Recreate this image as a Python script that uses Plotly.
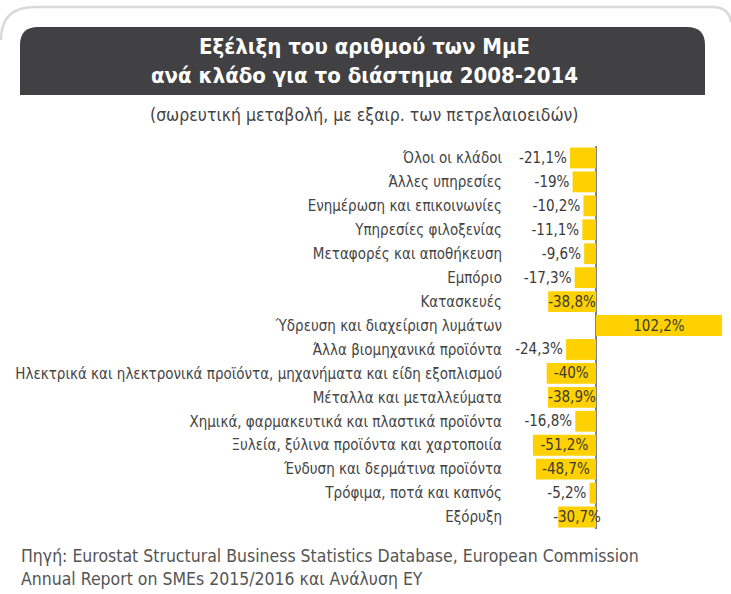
import plotly.graph_objects as go

categories = [
    "Όλοι οι κλάδοι",
    "Άλλες υπηρεσίες",
    "Ενημέρωση και επικοινωνίες",
    "Υπηρεσίες φιλοξενίας",
    "Μεταφορές και αποθήκευση",
    "Εμπόριο",
    "Κατασκευές",
    "Ύδρευση και διαχείριση λυμάτων",
    "Άλλα βιομηχανικά προϊόντα",
    "Ηλεκτρικά και ηλεκτρονικά προϊόντα, μηχανήματα και είδη εξοπλισμού",
    "Μέταλλα και μεταλλεύματα",
    "Χημικά, φαρμακευτικά και πλαστικά προϊόντα",
    "Ξυλεία, ξύλινα προϊόντα και χαρτοποιία",
    "Ένδυση και δερμάτινα προϊόντα",
    "Τρόφιμα, ποτά και καπνός",
    "Εξόρυξη",
]
values = [-21.1, -19, -10.2, -11.1, -9.6, -17.3, -38.8, 102.2, -24.3,
          -40, -38.9, -16.8, -51.2, -48.7, -5.2, -30.7]
labels = ["-21,1%", "-19%", "-10,2%", "-11,1%", "-9,6%", "-17,3%", "-38,8%",
          "102,2%", "-24,3%", "-40%", "-38,9%", "-16,8%", "-51,2%", "-48,7%",
          "-5,2%", "-30,7%"]

W, H = 731, 594
L, R, T, B = 505, 7, 146, 65
FONT = "Liberation Sans Narrow, DejaVu Sans Condensed, Roboto, sans-serif"
YELLOW = "#FFD100"


def px(x):
    return (x - L) / (W - L - R)


def py(y):
    return (H - B - y) / (H - T - B)


positions = ["inside" if abs(v) >= 30 else "outside" for v in values]

fig = go.Figure()
fig.add_trace(go.Bar(
    y=categories, x=values, orientation="h",
    marker=dict(color=YELLOW, line=dict(width=0)),
    text=labels, textposition=positions, insidetextanchor="middle",
    textfont=dict(family=FONT, size=15, color="#3a3a3a"),
    cliponaxis=False, hoverinfo="skip",
))

# title banner (rounded top corners) and outer frame
r = 18
banner = (f"M {px(20)},{py(95)} L {px(20)},{py(27 + r)} "
          f"Q {px(20)},{py(27)} {px(20 + r)},{py(27)} "
          f"L {px(705 - r)},{py(27)} Q {px(705)},{py(27)} {px(705)},{py(27 + r)} "
          f"L {px(705)},{py(95)} Z")
frame = (f"M {px(1)},{py(40)} Q {px(1)},{py(7)} {px(35)},{py(7)} "
         f"L {px(712)},{py(7)} Q {px(729)},{py(7)} {px(731)},{py(22)}")
shapes = [
    dict(type="path", path=banner, xref="paper", yref="paper",
         fillcolor="#414042", line=dict(width=0), layer="below"),
    dict(type="path", path=frame, xref="paper", yref="paper",
         line=dict(color="#d9d9d9", width=2.5), layer="below"),
]

annotations = [
    dict(text="<b>Εξέλιξη του αριθμού των ΜμΕ<br>ανά κλάδο για το διάστημα 2008-2014</b>",
         x=px(364), y=py(61), xref="paper", yref="paper", showarrow=False,
         xanchor="center", yanchor="middle",
         font=dict(family=FONT, size=22, color="white"), align="center"),
    dict(text="(σωρευτική μεταβολή, με εξαιρ. των πετρελαιοειδών)",
         x=px(364), y=py(115), xref="paper", yref="paper", showarrow=False,
         xanchor="center", yanchor="middle",
         font=dict(family=FONT, size=17.5, color="#444444")),
    dict(text="Πηγή: Eurostat Structural Business Statistics Database, European Commission<br>"
              "Annual Report on SMEs 2015/2016 και Ανάλυση ΕΥ",
         x=px(19), y=py(567), xref="paper", yref="paper", showarrow=False,
         xanchor="left", yanchor="middle", align="left",
         font=dict(family=FONT, size=17.5, color="#555555")),
]

fig.update_layout(
    width=W, height=H,
    margin=dict(l=L, r=R, t=T, b=B),
    paper_bgcolor="white", plot_bgcolor="white",
    showlegend=False, bargap=0.13,
    uniformtext=dict(minsize=15, mode="show"),
    xaxis=dict(range=[-73.8, 103.8], showgrid=False, showticklabels=False,
               zeroline=True, zerolinecolor="#808080", zerolinewidth=1.5,
               fixedrange=True),
    yaxis=dict(autorange="reversed", showgrid=False, ticks="",
               tickfont=dict(family=FONT, size=15, color="#444444"),
               ticklabelstandoff=2, fixedrange=True),
    shapes=shapes, annotations=annotations,
)

fig.write_html("out.html", config={"displayModeBar": False},
               post_script="document.body.style.margin='0';")
